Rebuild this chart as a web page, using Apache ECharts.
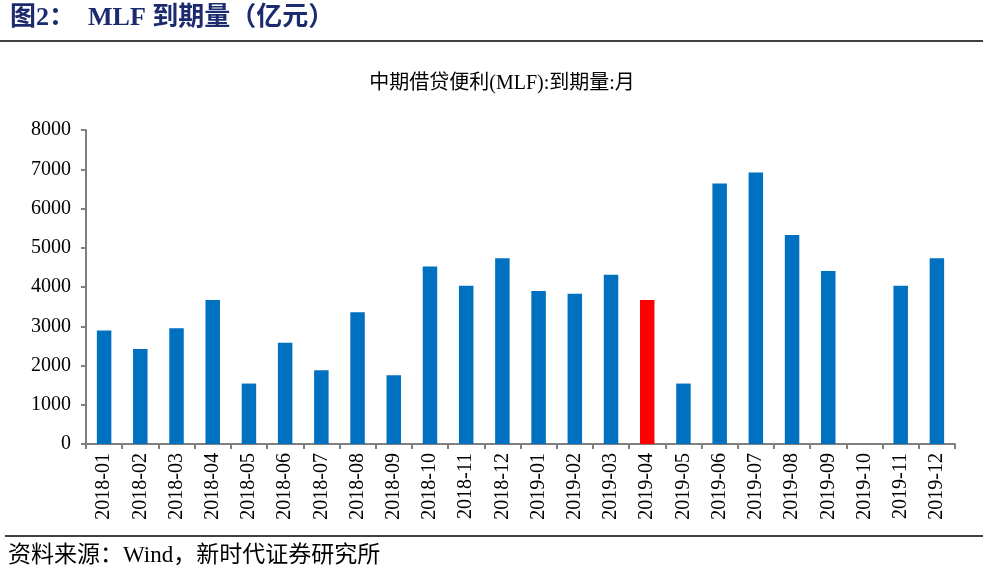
<!DOCTYPE html>
<html>
<head>
<meta charset="utf-8">
<script src="https://cdn.jsdelivr.net/npm/echarts@6/dist/echarts.min.js"></script>
<style>html,body{margin:0;padding:0;background:#fff;}#c{width:983px;height:577px;}</style>
</head>
<body>
<div id="c"></div>
<script>
const categories = ['2018-01','2018-02','2018-03','2018-04','2018-05','2018-06','2018-07','2018-08','2018-09','2018-10','2018-11','2018-12','2019-01','2019-02','2019-03','2019-04','2019-05','2019-06','2019-07','2019-08','2019-09','2019-10','2019-11','2019-12'];
const values = [2890,2420,2950,3670,1540,2580,1880,3355,1750,4520,4035,4730,3900,3830,4315,3670,1540,6640,6920,5325,4410,null,4035,4730];
const highlight = '2019-04';
const yTicks = [0,1000,2000,3000,4000,5000,6000,7000,8000];

const serif = '"Liberation Serif","Times New Roman","Noto Sans CJK SC",serif';
const chart = echarts.init(document.getElementById('c'));
chart.setOption({
  animation: false,
  backgroundColor: '#fff',
  title: {
    text: '中期借贷便利(MLF):到期量:月',
    left: 497, top: 69, textAlign: 'center',
    textStyle: {fontFamily: serif, fontSize: 20, fontWeight: 'normal', color: '#000'}
  },
  grid: {left: 86, right: 28, top: 130, bottom: 133},
  xAxis: {
    type: 'category',
    data: categories,
    axisLine: {lineStyle: {color: '#808080', width: 2}},
    axisTick: {show: true, length: 5, lineStyle: {color: '#808080', width: 2}},
    axisLabel: {rotate: 90, fontFamily: serif, fontSize: 20, color: '#000', margin: 9}
  },
  yAxis: {
    type: 'value', min: yTicks[0], max: yTicks[yTicks.length-1], interval: 1000,
    splitLine: {show: false},
    axisLine: {show: true, lineStyle: {color: '#808080', width: 2}},
    axisTick: {show: true, length: 5, lineStyle: {color: '#808080', width: 2}},
    axisLabel: {fontFamily: serif, fontSize: 20, color: '#000', margin: 15, formatter: v => String(v)}
  },
  series: [{
    type: 'bar',
    barWidth: '40%',
    data: values.map((v,i) => ({value: v, itemStyle: {color: categories[i] === highlight ? '#FF0000' : '#0070C0'}}))
  }],
  graphic: [
    {type: 'text', left: 10, top: 5, style: {text: '图2：  MLF 到期量（亿元）', fontFamily: serif, fontSize: 26, fontWeight: 'bold', fill: '#1c2a6e'}},
    {type: 'line', shape: {x1: 0, y1: 41, x2: 983, y2: 41}, style: {stroke: '#000', lineWidth: 1.5}},
    {type: 'line', shape: {x1: 5, y1: 536, x2: 983, y2: 536}, style: {stroke: '#000', lineWidth: 1.5}},
    {type: 'text', left: 8, top: 544, style: {text: '资料来源：Wind，新时代证券研究所', fontFamily: serif, fontSize: 23, fill: '#000'}}
  ]
});
</script>
</body>
</html>
